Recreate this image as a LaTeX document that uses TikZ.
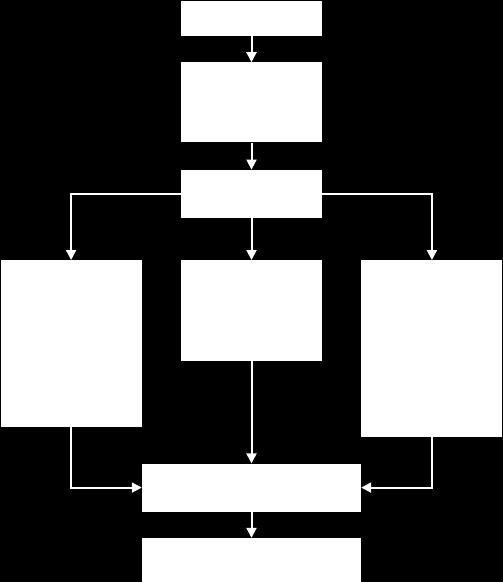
\documentclass[tikz,border=0pt]{standalone}
\usetikzlibrary{positioning,arrows.meta}

\begin{document}
\begin{tikzpicture}[x=1pt,y=-1pt,node distance=26pt,
    box/.style={rectangle,fill=white,inner sep=0pt,minimum width=141pt},
    wide/.style={box,minimum width=219pt},
    link/.style={color=white,line width=2pt,-{Triangle[width=10pt,length=10pt]}}]
    \fill[black] (0,0) rectangle (503,582);

    \node[box,minimum height=35pt] (a) at (251.5,18.5)   {};
    \node[box,minimum height=80pt] (b) [below=of a]      {};
    \node[box,minimum height=48pt] (c) [below=27pt of b] {};
    \node[box,minimum height=101pt] (m) [below=42pt of c] {};
    \node[box,minimum height=167pt,anchor=north east] (l) at ([xshift=-39pt]m.north west) {};
    \node[box,minimum height=177pt,anchor=north west] (r) at ([xshift=39pt]m.north east) {};
    \node[wide,minimum height=48pt] (d) [below=102pt of m] {};
    \node[wide,minimum height=44pt] (e) [below=of d]       {};

    \path[link] (a) edge (b)
                (b) edge (c)
                (c) edge (m)
                (m) edge (d)
                (d) edge (e);
    \draw[link] (c.west) -| (l);
    \draw[link] (c.east) -| (r);
    \draw[link] (l.south) |- (d.west);
    \draw[link] (r.south) |- (d.east);
\end{tikzpicture}
\end{document}
